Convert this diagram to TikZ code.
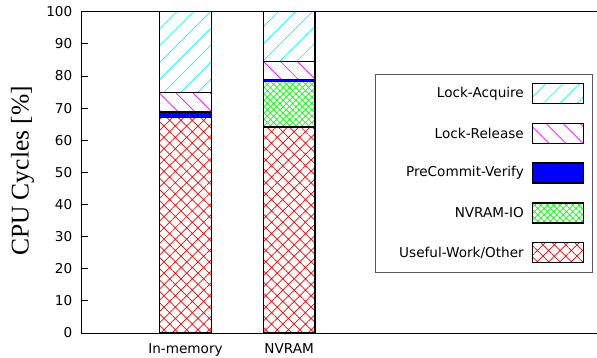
\documentclass[tikz,border=0pt]{standalone}
\usepackage{fontspec}
\setmainfont{DejaVu Sans}
\newfontfamily\axisfont{Liberation Serif}
\usetikzlibrary{patterns.meta}

\tikzset{
  segbox/.style={draw=black, line width=1.2pt},
  acquire/.style={segbox, pattern={Lines[angle=45,distance=12pt,line width=0.7pt]}, pattern color=cyan},
  release/.style={segbox, pattern={Lines[angle=-45,distance=12pt,line width=0.7pt]}, pattern color=magenta},
  verify/.style={segbox, fill=blue},
  nvio/.style={segbox, pattern={Hatch[angle=45,distance=4.5pt,line width=0.7pt]}, pattern color=green},
  useful/.style={segbox, pattern={Hatch[angle=45,distance=8pt,line width=0.7pt]}, pattern color=red},
}

\begin{document}
\begin{tikzpicture}[x=1pt, y=1pt, every node/.style={font=\fontsize{13.6}{16}\selectfont, inner sep=0pt}]
            \useasboundingbox (0,0) rectangle (597,358);
            \begin{scope}[shift={(81,25)}, y=3.213pt]
                \draw[line width=0.8pt] (516,0) -- (0,0) -- (0,100) -- (516,100);
                \foreach \v in {0,10,...,100} {
                    \draw[line width=0.8pt] (0,\v) -- (7,\v);
                    \node[anchor=east] (T\v) at (-8.5,\v) {\v};
                }

                \foreach \lo/\hi/\kind in {0/67/useful, 67/68.8/verify, 68.8/74.8/release, 74.8/100/acquire}
                    \draw[\kind] (78.5,\lo) rectangle (130.5,\hi);
                \foreach \lo/\hi/\kind in {0/64.1/useful, 64.1/78.3/nvio, 78.3/79/verify, 79/84.6/release, 84.6/100/acquire}
                    \draw[\kind] (182.3,\lo) rectangle (234,\hi);

                \node[anchor=base] (inmem) at (104.5,-6.5) {In-memory};
                \node[anchor=base] (nvram) at (208.2,-6.5) {NVRAM};
            \end{scope}

            \node[rotate=90, font=\axisfont\fontsize{25.5}{30}\selectfont] (ylab) at (22.5,187) {CPU Cycles [\%]};

            \draw[draw=black!65, line width=0.8pt] (375,85.7) rectangle (592,283.7);
            \foreach \kind/\txt/\yc in {acquire/Lock-Acquire/264.3, release/Lock-Release/224.7, verify/PreCommit-Verify/185, nvio/NVRAM-IO/145, useful/Useful-Work\slash Other/105.3} {
                \draw[\kind] (532.7,\yc-10) rectangle (583.3,\yc+10);
                \node[anchor=east] (L\kind) at (524,\yc) {\txt};
            }
        \end{tikzpicture}
\end{document}
